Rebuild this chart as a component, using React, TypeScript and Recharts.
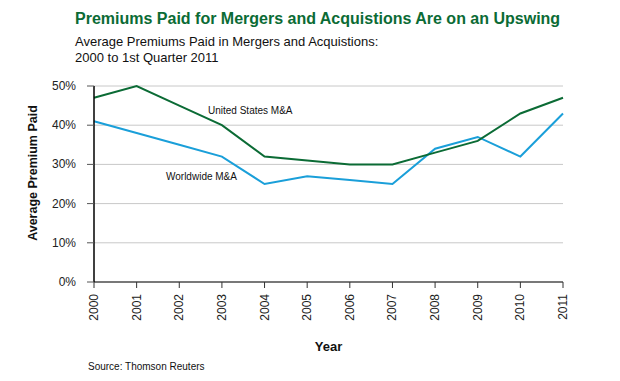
import { LineChart, Line, XAxis, YAxis, CartesianGrid, Label } from 'recharts';

const years = ['2000', '2001', '2002', '2003', '2004', '2005', '2006', '2007', '2008', '2009', '2010', '2011'];
const usPremium = [47, 50, 45, 40, 32, 31, 30, 30, 33, 36, 43, 47];
const worldPremium = [41, 38, 35, 32, 25, 27, 26, 25, 34, 37, 32, 43];
const yTicks = [0, 10, 20, 30, 40, 50];

const data = years.map((year, i) => ({ year, us: usPremium[i], world: worldPremium[i] }));

const font = '"Liberation Sans", Arial, sans-serif';
const green = '#0b6b35';
const blue = '#1a9fd9';

function YearTick({ x, y, payload }: any) {
  return (
    <text
      x={x}
      y={y + 4}
      transform={`rotate(-90, ${x}, ${y + 4})`}
      textAnchor="end"
      dominantBaseline="central"
      fontSize={12}
      fill="#222"
      fontFamily={font}
    >
      {payload.value}
    </text>
  );
}

function PercentTick({ x, y, payload }: any) {
  return (
    <text x={x - 9} y={y} textAnchor="end" dominantBaseline="central" fontSize={12} fill="#222" fontFamily={font}>
      {`${payload.value}%`}
    </text>
  );
}

export default function App() {
  return (
    <div style={{ position: 'absolute', left: 0, top: 0, width: 620, height: 381, background: '#fff', fontFamily: font }}>
      <div style={{ position: 'absolute', left: 75, top: 10, fontSize: 16, fontWeight: 'bold', color: green }}>
        Premiums Paid for Mergers and Acquistions Are on an Upswing
      </div>
      <div style={{ position: 'absolute', left: 75, top: 34, fontSize: 13, lineHeight: '16px', color: '#111' }}>
        Average Premiums Paid in Mergers and Acquistions:
        <br />
        2000 to 1st Quarter 2011
      </div>
      <LineChart width={620} height={381} data={data} margin={{ top: 86, right: 57, bottom: 0, left: 34 }}>
        <CartesianGrid horizontal vertical={false} stroke="#c8c8c8" />
        <XAxis
          dataKey="year"
          tick={<YearTick />}
          tickLine={{ stroke: '#333' }}
          tickSize={6}
          axisLine={{ stroke: '#555', strokeWidth: 1.5 }}
          interval={0}
          height={99}
        >
          <Label value="Year" position="insideBottom" offset={30} fontSize={13} fontWeight="bold" fill="#111" fontFamily={font} />
        </XAxis>
        <YAxis
          domain={[0, 50]}
          ticks={yTicks}
          tick={<PercentTick />}
          tickLine={{ stroke: '#555' }}
          tickSize={7}
          axisLine={{ stroke: '#000', strokeWidth: 1.5 }}
          width={60}
        />
        <Line dataKey="world" stroke={blue} strokeWidth={2} dot={false} isAnimationActive={false} />
        <Line dataKey="us" stroke={green} strokeWidth={2} dot={false} isAnimationActive={false} />
      </LineChart>
      <div
        style={{
          position: 'absolute',
          left: 33,
          top: 173,
          transform: 'translate(-50%, -50%) rotate(-90deg)',
          whiteSpace: 'nowrap',
          fontSize: 12.5,
          fontWeight: 'bold',
          color: '#111',
        }}
      >
        Average Premium Paid
      </div>
      <div style={{ position: 'absolute', left: 208, top: 105, fontSize: 10, color: '#111' }}>United States M&amp;A</div>
      <div style={{ position: 'absolute', left: 166, top: 171, fontSize: 10, color: '#111' }}>Worldwide M&amp;A</div>
      <div style={{ position: 'absolute', left: 88, top: 361, fontSize: 10, color: '#111' }}>Source: Thomson Reuters</div>
    </div>
  );
}
